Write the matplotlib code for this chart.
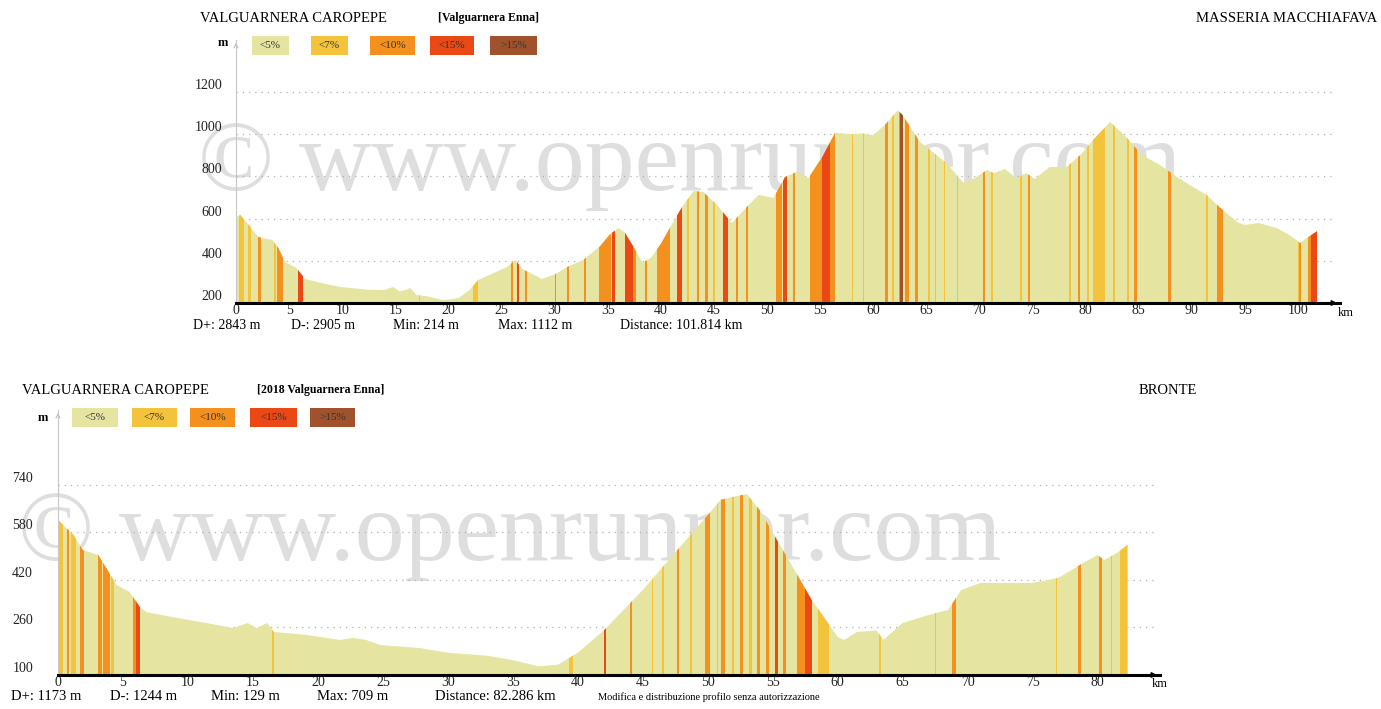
import matplotlib
matplotlib.use('Agg')
import matplotlib.pyplot as plt
import matplotlib.patches as ptc
import numpy as np

# ---- donnees ----
classes = ['<5%', '<7%', '<10%', '<15%', '>15%']
couleurs = ['#e5e5a1', '#f3c33c', '#f3901e', '#ea4814', '#a0522d']

# profil du haut
km_haut = [0, 0.4, 1.2, 2.1, 2.9, 3.4, 4.0, 4.6, 5.7, 6.5, 6.8, 8.0, 9.8, 11.0,
           12.6, 14.0, 14.8, 15.4, 16.0, 16.4, 17.0, 18.0, 19.5, 20.3, 21.0,
           22.0, 22.8, 24.5, 25.5, 26.3, 27.0, 28.0, 28.8, 30.0, 31.2, 32.7,
           34.3, 35.2, 36.0, 36.6, 37.5, 38.3, 39.1, 40.0, 40.9, 42.0, 43.1,
           44.0, 45.3, 46.7, 48.1, 49.2, 50.6, 51.7, 52.8, 53.9, 55.2, 56.4,
           58.0, 59.0, 60.0, 61.1, 62.3, 62.7, 64.4, 66.9, 68.5, 69.5, 70.7,
           71.4, 72.4, 73.5, 74.4, 75.2, 76.6, 78.2, 79.5, 80.7, 82.3, 83.9,
           85.3, 87.0, 88.6, 90.1, 91.4, 92.7, 94.4, 95.0, 96.3, 98.0, 99.2,
           100.2, 100.6, 101.8]
alt_haut = [605, 617, 570, 513, 503, 500, 460, 394, 366, 314, 310, 295, 276, 270,
            262, 262, 276, 255, 262, 271, 238, 232, 214, 218, 225,
            262, 309, 347, 370, 404, 360, 335, 314, 335, 371, 404,
            470, 525, 555, 535, 460, 390, 415, 480, 560, 655, 731,
            726, 664, 579, 655, 712, 698, 797, 821, 792, 892, 1006,
            1000, 1003, 995, 1044, 1112, 1095, 963, 863, 769, 790, 830,
            815, 835, 790, 815, 788, 844, 844, 901, 972, 1058, 982,
            901, 854, 797, 750, 712, 650, 579, 570, 579, 555, 522,
            484, 500, 541]
# bandes de pente (debut km, fin km, classe)
bandes_haut = [(0.3, 0.8, 1), (1.1, 1.4, 1), (2.1, 2.4, 2), (3.6, 3.8, 1), (3.9, 4.4, 2),
               (5.8, 6.3, 3), (17.2, 17.35, 1), (22.3, 22.8, 1), (25.9, 26.1, 2),
               (26.5, 26.65, 3), (27.2, 27.4, 2), (30.0, 30.15, 2), (31.2, 31.4, 2),
               (32.8, 32.95, 2), (34.2, 35.3, 2), (35.4, 35.7, 3), (36.6, 37.4, 3),
               (37.4, 37.7, 2), (38.5, 38.7, 2), (39.6, 40.9, 2), (41.5, 42.0, 3),
               (42.5, 42.7, 1), (43.4, 43.6, 2), (44.2, 44.4, 2), (44.9, 45.1, 1),
               (45.9, 46.3, 3), (47.1, 47.3, 2), (48.0, 48.2, 2), (50.8, 51.4, 2),
               (51.5, 51.9, 3), (52.4, 52.6, 2), (54.0, 55.2, 2), (55.2, 55.9, 3),
               (55.9, 56.4, 2), (58.0, 58.1, 1), (59.0, 59.1, 1), (61.1, 61.4, 2),
               (61.8, 62.0, 1), (62.4, 62.5, 2), (62.5, 62.8, 4), (63.0, 63.4, 2),
               (63.9, 64.2, 2), (65.2, 65.3, 1), (65.8, 65.9, 1), (66.7, 66.8, 1),
               (67.9, 68.0, 1), (70.3, 70.5, 2), (71.1, 71.3, 1), (73.8, 74.0, 1),
               (74.6, 74.8, 2), (78.4, 78.6, 1), (79.3, 79.5, 2), (80.1, 80.3, 1),
               (80.7, 81.8, 1), (82.6, 82.8, 1), (83.9, 84.1, 1), (84.6, 84.8, 2),
               (87.8, 88.0, 2), (91.3, 91.5, 1), (92.4, 92.9, 2), (100.0, 100.1, 1),
               (100.1, 100.3, 2), (100.9, 101.2, 2), (101.2, 101.8, 3)]

# profil du bas
km_bas = [0, 1.2, 1.9, 3.1, 3.8, 4.5, 5.5, 6.3, 6.8, 8.8, 11.4, 13.5, 14.6, 15.3,
          16.1, 16.6, 19.1, 21.7, 22.7, 23.7, 24.8, 27.8, 30.0, 33.0, 35.0, 37.0,
          38.5, 40.0, 42.0, 45.0, 48.0, 50.0, 51.0, 52.0, 53.0, 54.0, 56.0, 58.0,
          60.0, 60.5, 61.5, 63.0, 63.5, 65.0, 67.0, 68.5, 69.5, 71.0, 75.0, 77.0,
          79.0, 80.0, 80.5, 81.5, 82.3]
alt_bas = [622, 571, 521, 504, 454, 403, 380, 329, 312, 295, 275, 258, 275, 258,
           275, 245, 235, 218, 225, 218, 201, 191, 175, 165, 150, 129,
           135, 175, 250, 386, 538, 638, 690, 700, 709, 655, 504, 353,
           228, 218, 245, 250, 218, 275, 302, 319, 386, 410, 410, 427,
           480, 504, 487, 511, 538]
bandes_bas = [(0.0, 0.4, 1), (0.7, 0.85, 2), (1.0, 1.4, 1), (1.7, 2.0, 2), (3.1, 3.4, 2),
              (3.5, 4.0, 2), (4.1, 4.3, 1), (5.8, 6.0, 2), (6.0, 6.3, 3), (16.5, 16.6, 1),
              (39.3, 39.6, 1), (42.0, 42.15, 3), (44.0, 44.2, 2), (45.7, 45.8, 1),
              (46.5, 46.6, 1), (47.6, 47.8, 2), (48.6, 48.8, 1), (49.8, 50.2, 2),
              (50.7, 50.8, 1), (51.0, 51.3, 2), (51.9, 52.0, 1), (52.5, 52.7, 2),
              (53.2, 53.4, 1), (53.8, 54.0, 2), (54.5, 54.7, 2), (55.2, 55.4, 3),
              (55.8, 56.0, 2), (56.9, 57.5, 2), (57.5, 58.0, 3), (58.5, 59.3, 1),
              (63.2, 63.3, 1), (67.5, 67.6, 1), (68.8, 69.1, 2), (76.8, 76.9, 1),
              (78.5, 78.7, 2), (80.1, 80.3, 2), (81.0, 81.1, 1), (81.7, 82.3, 1)]

stats_haut = ['D+: 2843 m', 'D-: 2905 m', 'Min: 214 m', 'Max: 1112 m', 'Distance: 101.814 km']
stats_bas = ['D+: 1173 m', 'D-: 1244 m', 'Min: 129 m', 'Max: 709 m', 'Distance: 82.286 km']

W, H = 1381, 709
POLICE = 'Liberation Serif'


def fx(x):
    return x / W


def fy(y):
    return 1 - y / H


def profil(fig, rect, km, alt, bandes, yticks, xticks, xmax, ymax, pad_y, marque):
    x0, y0, x1, y1 = rect
    ax = fig.add_axes([fx(x0), fy(y1), (x1 - x0) / W, (y1 - y0) / H])
    ymin = yticks[0]
    ax.set_xlim(0, xmax)
    ax.set_ylim(ymin, ymax)
    for s in ax.spines.values():
        s.set_visible(False)

    # filigrane derriere le profil
    ax.text(marque[0], marque[1], '\u00a9 www.openrunner.com', transform=fig.transFigure,
            fontsize=72, family=POLICE, color='#dedede', ha='left', va='baseline',
            zorder=0.5, clip_on=False)

    # grille pointillee
    for y in yticks[1:]:
        ax.axhline(y, xmax=0.995, color='#b0b0b0', ls=(0, (1, 4)), lw=0.9, zorder=1)

    # polygone du profil
    verts = np.column_stack([np.r_[km[0], km, km[-1]], np.r_[ymin, alt, ymin]])
    poly = ptc.Polygon(verts, closed=True, fc=couleurs[0], ec='none', zorder=2)
    ax.add_patch(poly)
    for debut, fin, c in bandes:
        sp = ax.axvspan(debut, fin, color=couleurs[c], lw=0, zorder=3)
        sp.set_clip_path(poly)

    # axes
    ax.plot([0, xmax], [ymin, ymin], color='black', lw=2.2, zorder=5, clip_on=False)
    ax.annotate('', xy=(1.0, 0), xytext=(0.985, 0), xycoords='axes fraction',
                arrowprops=dict(arrowstyle='-|>', color='black', lw=1, mutation_scale=8))
    ax.plot([0, 0], [ymin, ymax], color='#c8c8c8', lw=0.8, zorder=4, clip_on=False)
    ax.annotate('', xy=(0, 1.0), xytext=(0, 0.97), xycoords='axes fraction',
                arrowprops=dict(arrowstyle='->', color='#bbbbbb', lw=0.8, mutation_scale=7))

    ax.set_xticks(xticks)
    ax.set_xticklabels([str(t) for t in xticks])
    ax.set_yticks(yticks)
    ax.set_yticklabels([str(t) for t in yticks])
    ax.tick_params(length=0, labelsize=10, colors='#222222')
    ax.tick_params(axis='x', pad=1)
    ax.tick_params(axis='y', pad=pad_y)
    for lab in ax.get_xticklabels() + ax.get_yticklabels():
        lab.set_family(POLICE)
    for lab in ax.get_yticklabels():
        lab.set_va('bottom')
    return ax


def legende(fig, xs, y, largeurs, texte_m):
    fig.text(fx(texte_m[0]), fy(texte_m[1]), 'm', fontsize=9, family=POLICE,
             fontweight='bold', ha='center', va='center')
    for i, x in enumerate(xs):
        r = ptc.Rectangle((fx(x), fy(y + 19)), largeurs[i] / W, 19 / H,
                          transform=fig.transFigure, fc=couleurs[i], ec='none')
        fig.add_artist(r)
        fig.text(fx(x + largeurs[i] / 2), fy(y + 9.5), classes[i], fontsize=8,
                 family=POLICE, ha='center', va='center', color='#333333')


fig = plt.figure(figsize=(W / 100, H / 100), dpi=100)

# graphique du haut
profil(fig, (236, 40, 1340, 303), km_haut, alt_haut, bandes_haut,
       list(range(200, 1201, 200)), list(range(0, 101, 5)), 103.95, 1446, 10,
       (fx(198), fy(190)))
fig.text(fx(200), fy(18), 'VALGUARNERA CAROPEPE', fontsize=10.5, family=POLICE, va='center')
fig.text(fx(438), fy(18), '[Valguarnera Enna]', fontsize=8.5, family=POLICE,
         fontweight='bold', va='center')
fig.text(fx(1377), fy(18), 'MASSERIA MACCHIAFAVA', fontsize=10.5, family=POLICE,
         va='center', ha='right')
legende(fig, [252, 311, 370, 430, 490], 36, [37, 37, 45, 44, 47], (223, 43))
fig.text(fx(1346), fy(313), 'km', fontsize=9, family=POLICE, va='center', ha='center')
for x, t in zip([193, 291, 393, 498, 620], stats_haut):
    fig.text(fx(x), fy(326), t, fontsize=10, family=POLICE, va='center')

# graphique du bas
profil(fig, (58, 410, 1160, 675), km_bas, alt_bas, bandes_bas,
       list(range(100, 741, 160)), list(range(0, 81, 5)), 84.8, 992, 18,
       (fx(18), fy(560)))
fig.text(fx(22), fy(390), 'VALGUARNERA CAROPEPE', fontsize=10.5, family=POLICE, va='center')
fig.text(fx(257), fy(390), '[2018 Valguarnera Enna]', fontsize=8.5, family=POLICE,
         fontweight='bold', va='center')
fig.text(fx(1197), fy(391), 'BRONTE', fontsize=10.5, family=POLICE, va='center', ha='right')
legende(fig, [72, 132, 190, 250, 310], 408, [46, 45, 45, 47, 45], (43, 418))
fig.text(fx(1160), fy(684), 'km', fontsize=9, family=POLICE, va='center', ha='center')
for x, t in zip([11, 110, 211, 317, 435], stats_bas):
    fig.text(fx(x), fy(697), t, fontsize=10.5, family=POLICE, va='center')
fig.text(fx(598), fy(697), 'Modifica e distribuzione profilo senza autorizzazione',
         fontsize=7.5, family=POLICE, va='center')

fig.savefig('out.png', dpi=100)
